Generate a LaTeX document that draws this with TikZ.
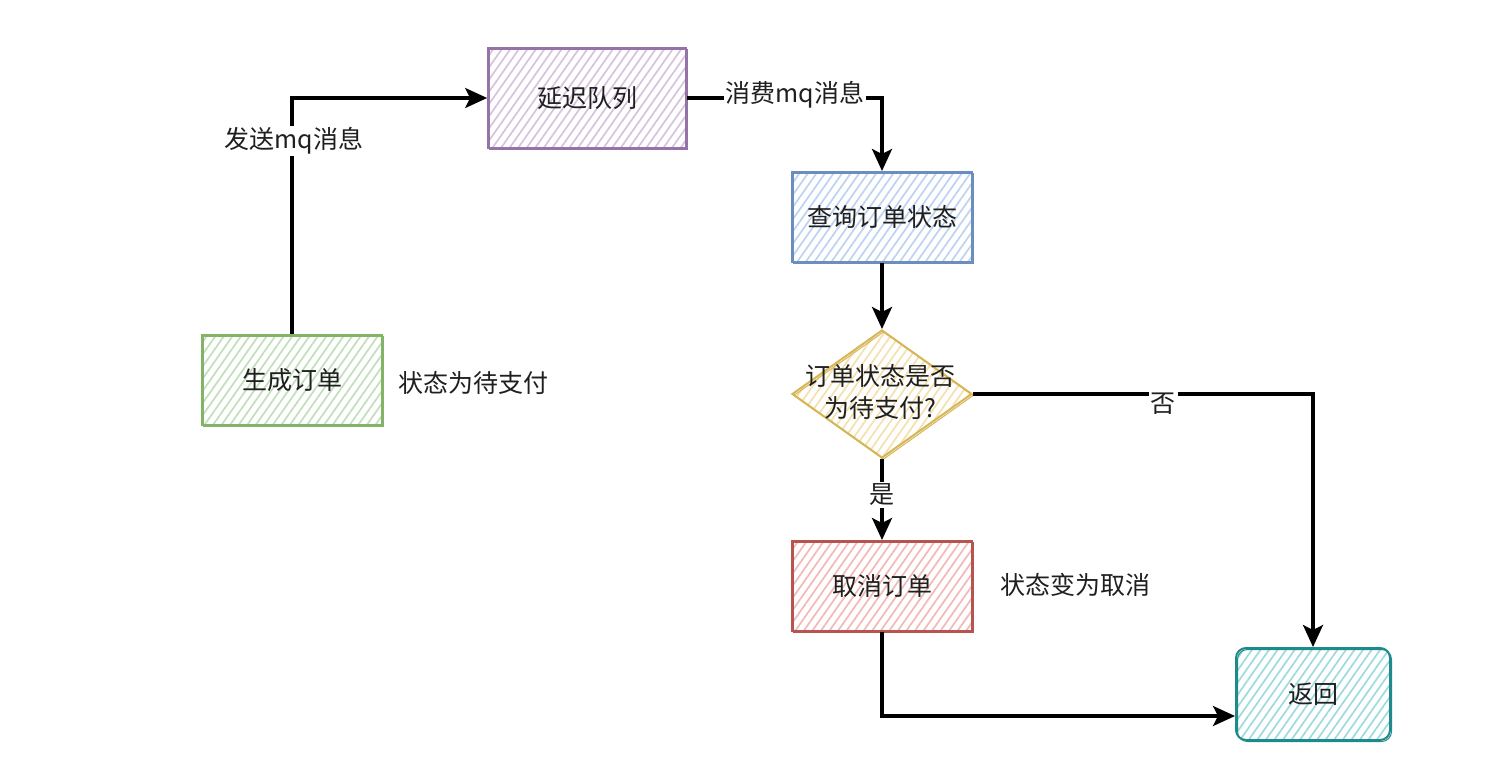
\documentclass[tikz,border=0pt]{standalone}
\usepackage{fontspec}
\newfontfamily\cjk{Noto Sans CJK SC}
\usetikzlibrary{shapes.geometric,arrows.meta,patterns.meta}
\definecolor{purS}{HTML}{9673A6}\definecolor{purP}{HTML}{D6C3DE}
\definecolor{grnS}{HTML}{82B366}\definecolor{grnP}{HTML}{C2DFBB}
\definecolor{bluS}{HTML}{6C8EBF}\definecolor{bluP}{HTML}{BDD3F1}
\definecolor{yelS}{HTML}{D6B656}\definecolor{yelP}{HTML}{F5E1AE}
\definecolor{redS}{HTML}{B85450}\definecolor{redP}{HTML}{F2B9B7}
\definecolor{tealS}{HTML}{1F8A8A}\definecolor{tealP}{HTML}{9EDBDE}
\tikzset{
  every node/.style={font=\cjk\fontsize{25}{32}\selectfont, text=black!88},
  sketch/.style n args={2}{draw=#1, line width=2pt,
    pattern={Lines[angle=55,distance=7pt,line width=1.7pt]}, pattern color=#2,
    postaction={draw=#1, line width=1pt, transform canvas={xshift=1.5pt,yshift=-1.5pt}}},
  boxnode/.style={rectangle, minimum width=180pt, minimum height=90pt, inner sep=2pt},
  conn/.style={line width=3.2pt, draw=black, -{Stealth[length=22pt,width=20pt,inset=5pt]}},
  lbl/.style={fill=white, inner sep=2pt},
  plain/.style={inner sep=2pt}
}
\begin{document}
\begin{tikzpicture}[x=1pt,y=-1pt]
\useasboundingbox[fill=white] (0,0) rectangle (1494,778);
\node[boxnode, sketch={purS}{purP}, minimum width=198pt, minimum height=100pt] (dq) at (587,98) {延迟队列};
\node[boxnode, sketch={grnS}{grnP}] (gen) at (292,380) {生成订单};
\node[boxnode, sketch={bluS}{bluP}] (query) at (882,217) {查询订单状态};
\node[diamond, aspect=1.4, minimum width=180pt, minimum height=128pt, inner sep=0pt, sketch={yelS}{yelP},
      align=center] (dec) at (882,394) {};
\node[plain, align=center] (dectext) at (880,392) {订单状态是否\\为待支付?};
\node[boxnode, sketch={redS}{redP}] (cancel) at (882,586) {取消订单};
\node[boxnode, rounded corners=10pt, sketch={tealS}{tealP}, minimum width=154pt, minimum height=92pt] (ret) at (1313,694) {返回};

\node[plain] (s1) at (473,383) {状态为待支付};
\node[plain] (s2) at (1075,585) {状态变为取消};

\coordinate (c1) at (gen.north |- dq.west);
\draw[conn] (gen.north) -- (c1) -- (dq.west);
\node[lbl] (l1) at (294,141) {发送mq消息};

\coordinate (c2) at (query.north |- dq.east);
\draw[conn] (dq.east) -- (c2) -- (query.north);
\node[lbl] (l2) at (795,95) {消费mq消息};

\draw[conn] (query.south) -- (dec.north);
\draw[conn] (dec.south) -- (cancel.north);
\node[lbl] (l3) at (882,495) {是};

\coordinate (c3) at (ret.north |- dec.east);
\draw[conn] (dec.east) -- (c3) -- (ret.north);
\node[lbl] (l4) at (1163,404) {否};

\coordinate (c4) at (cancel.south |- 0,716);
\draw[conn] (cancel.south) -- (c4) -- (c4 -| ret.west);
\end{tikzpicture}
\end{document}
